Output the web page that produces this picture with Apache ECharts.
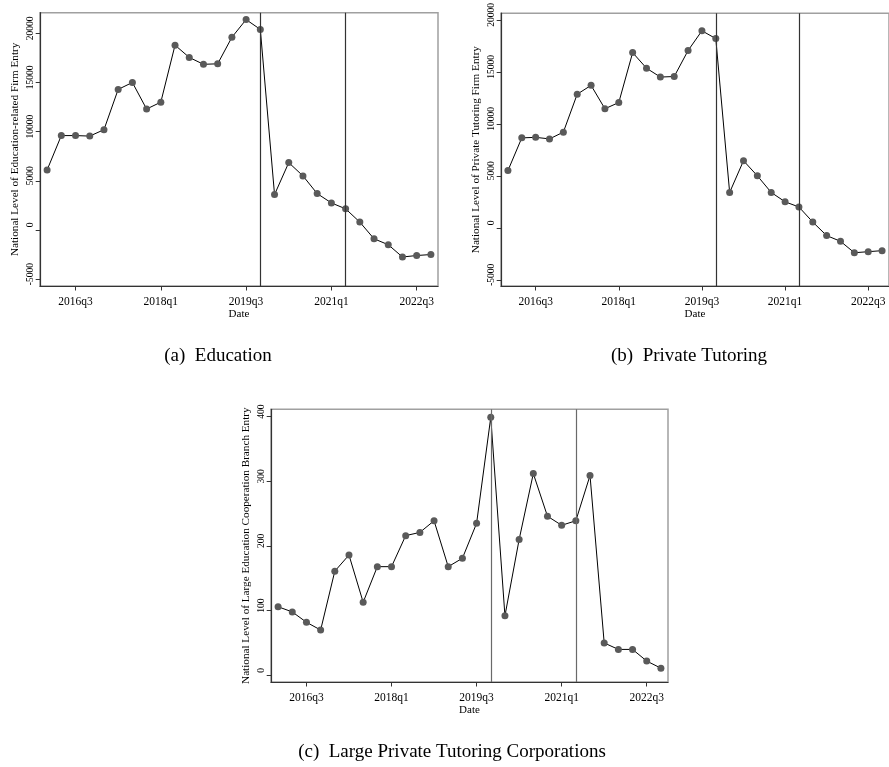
<!DOCTYPE html>
<html>
<head>
<meta charset="utf-8">
<script src="https://cdn.jsdelivr.net/npm/echarts@6/dist/echarts.min.js"></script>
<style>
html,body{margin:0;padding:0;background:#fff;}
#chart{width:889px;height:767px;}
</style>
</head>
<body>
<div id="chart"></div>
<script>
// ---- data ----
const quarters = ['2016q1','2016q2','2016q3','2016q4','2017q1','2017q2','2017q3','2017q4',
  '2018q1','2018q2','2018q3','2018q4','2019q1','2019q2','2019q3','2019q4',
  '2020q1','2020q2','2020q3','2020q4','2021q1','2021q2','2021q3','2021q4',
  '2022q1','2022q2','2022q3','2022q4'];
const educationEntry = [6100, 9600, 9600, 9550, 10200, 14300, 15000, 12300,
  13000, 18800, 17550, 16850, 16900, 19600, 21400, 20400,
  3600, 6850, 5500, 3700, 2750, 2150, 800, -900,
  -1500, -2750, -2600, -2500];
const tutoringEntry = [5500, 8650, 8700, 8550, 9200, 12850, 13700, 11450,
  12050, 16850, 15350, 14500, 14550, 17050, 18950, 18200,
  3400, 6450, 5000, 3400, 2500, 2000, 550, -750,
  -1300, -2400, -2300, -2200];
const corporationEntry = [106, 98, 82, 70, 161, 186, 113, 168,
  168, 216, 221, 239, 168, 181, 235, 399,
  92, 210, 312, 246, 232, 239, 309, 50,
  40, 40, 22, 11];
const xTickLabels = ['2016q3','2018q1','2019q3','2021q1','2022q3'];
const yTicksFirm = [-5000, 0, 5000, 10000, 15000, 20000];
const yTicksCorp = [0, 100, 200, 300, 400];
const policyLines = ['2019q4', '2021q2'];
const yTitles = ['National Level of Education-related Firm Entry',
  'National Level of Private Tutoring Firm Entry',
  'National Level of Large Education Cooperation Branch Entry'];
const captions = ['(a)  Education', '(b)  Private Tutoring', '(c)  Large Private Tutoring Corporations'];

// ---- chart ----
const FONT = '"Liberation Serif", "Times New Roman", serif';
const chart = echarts.init(document.getElementById('chart'));

const grids = [
  {left: 40, top: 12.7, width: 398, height: 273.3},
  {left: 501, top: 12.7, width: 398, height: 273.3},
  {left: 271, top: 409.3, width: 397, height: 272.7}
].map(g => Object.assign({show: true, borderColor: '#a0a0a0', borderWidth: 1.5, backgroundColor: 'transparent', containLabel: false}, g));

function xAxisFor(i) {
  return {
    type: 'category', gridIndex: i, data: quarters, boundaryGap: true,
    name: 'Date', nameLocation: 'middle', nameGap: 20,
    nameTextStyle: {fontFamily: FONT, fontSize: 11, color: '#000'},
    axisLine: {show: true, onZero: false, lineStyle: {color: '#333', width: 1.2}},
    axisTick: {show: true, alignWithLabel: true, length: 4.5, lineStyle: {color: '#333'},
      interval: (idx, val) => xTickLabels.indexOf(val) >= 0},
    axisLabel: {show: true, margin: 10, fontFamily: FONT, fontSize: 11.5, color: '#000',
      interval: (idx, val) => xTickLabels.indexOf(val) >= 0},
    splitLine: {show: false}
  };
}
function yAxisFor(i, min, max, ticks) {
  return {
    type: 'value', gridIndex: i, min: min, max: max,
    name: yTitles[i], nameLocation: 'middle', nameRotate: 90, nameGap: 19,
    nameTextStyle: {fontFamily: FONT, fontSize: 11.2, color: '#000'},
    axisLine: {show: true, onZero: false, lineStyle: {color: '#333', width: 1.2}},
    axisTick: {show: true, length: 4.3, lineStyle: {color: '#333'}, customValues: ticks},
    axisLabel: {show: true, rotate: 90, margin: 5, fontFamily: FONT, fontSize: 9.5, color: '#000',
      customValues: ticks, formatter: v => String(v), padding: [0, 0, 0, 10]},
    splitLine: {show: false}
  };
}
function seriesFor(i, data, lineColor) {
  return {
    type: 'line', xAxisIndex: i, yAxisIndex: i, data: data,
    symbol: 'circle', symbolSize: 7, showAllSymbol: true,
    itemStyle: {color: '#5a5a5a'},
    lineStyle: {color: '#000', width: 1},
    emphasis: {disabled: true},
    animation: false,
    markLine: {
      silent: true, symbol: ['none', 'none'], label: {show: false},
      lineStyle: {color: lineColor, width: 1.2, type: 'solid'},
      emphasis: {disabled: true},
      data: policyLines.map(q => ({xAxis: q}))
    }
  };
}

chart.setOption({
  backgroundColor: '#fff',
  animation: false,
  grid: grids,
  xAxis: [xAxisFor(0), xAxisFor(1), xAxisFor(2)],
  yAxis: [
    yAxisFor(0, -5700, 22100, yTicksFirm),
    yAxisFor(1, -5600, 20640, yTicksFirm),
    yAxisFor(2, -10.4, 411.4, yTicksCorp)
  ],
  series: [
    seriesFor(0, educationEntry, '#333'),
    seriesFor(1, tutoringEntry, '#333'),
    seriesFor(2, corporationEntry, '#6a6a6a')
  ],
  graphic: [
    {type: 'text', x: 218, y: 356, silent: true,
      style: {text: captions[0], fontFamily: FONT, fontSize: 19, fill: '#000', align: 'center', verticalAlign: 'middle'}},
    {type: 'text', x: 689, y: 356, silent: true,
      style: {text: captions[1], fontFamily: FONT, fontSize: 19, fill: '#000', align: 'center', verticalAlign: 'middle'}},
    {type: 'text', x: 452, y: 752, silent: true,
      style: {text: captions[2], fontFamily: FONT, fontSize: 19, fill: '#000', align: 'center', verticalAlign: 'middle'}}
  ]
});
</script>
</body>
</html>
